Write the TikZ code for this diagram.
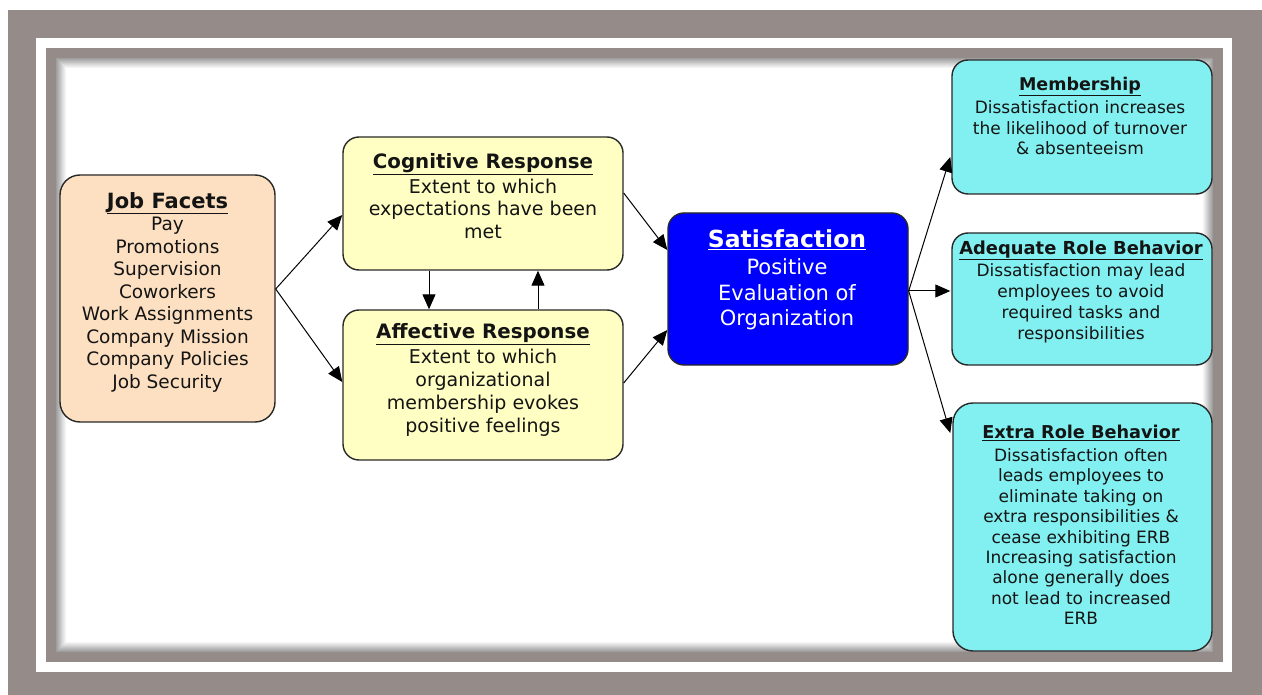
\documentclass[tikz,border=0pt]{standalone}
\usepackage{fontspec}
\setmainfont{DejaVu Sans}
\usetikzlibrary{arrows.meta}

\definecolor{framegray}{RGB}{149,139,137}
\definecolor{peach}{RGB}{253,224,194}
\definecolor{paleyellow}{RGB}{255,255,196}
\definecolor{satblue}{RGB}{0,0,255}
\definecolor{palecyan}{RGB}{130,240,240}
\definecolor{edge}{RGB}{40,40,40}

\tikzset{
  box/.style={draw=edge, line width=1.4pt, rounded corners=16pt, inner sep=0pt},
  txt/.style={align=center, inner sep=0pt, text=black!92},
  arr/.style={draw=black, line width=1pt, -{Triangle[length=15pt,width=13pt]}},
}

\newcommand{\boxtitle}[2]{{\bfseries\fontsize{#1}{#1}\selectfont\underline{#2}}}

\begin{document}
\begin{tikzpicture}[x=1pt,y=-1pt]
\useasboundingbox (0,0) rectangle (1262,695);

% frame
\fill[white] (0,0) rectangle (1262,695);
\fill[framegray] (8,10) rectangle (1262,695);
\fill[white] (36,38) rectangle (1232,672);
\fill[framegray] (46,48) rectangle (1223,662);
\fill[white] (56,58) rectangle (1213,652);
% inner shadow of the panel
\foreach \i in {0,...,9} {
  \pgfmathtruncatemacro\shade{round(38-3.8*\i)}
  \draw[black!\shade, line width=1.05pt] (56.5+\i,58.5+\i) rectangle (1212.5-\i,651.5-\i);
}

% boxes
\node[box, fill=peach, rounded corners=20pt, minimum width=215pt, minimum height=247pt] (jf) at (167.5,298.5) {};
\node[box, fill=paleyellow, minimum width=280pt, minimum height=133pt] (cog) at (483,203.5) {};
\node[box, fill=paleyellow, minimum width=280pt, minimum height=150pt] (aff) at (483,385) {};
\node[box, fill=satblue, minimum width=240pt, minimum height=152pt] (sat) at (788,289) {};
\node[box, fill=palecyan, minimum width=260pt, minimum height=134pt] (mem) at (1082,127) {};
\node[box, fill=palecyan, minimum width=260pt, minimum height=132pt] (adq) at (1082,299) {};
\node[box, fill=palecyan, rounded corners=20pt, minimum width=259pt, minimum height=248pt] (erb) at (1082.5,527) {};

% texts
\node[txt, font=\fontsize{18.5}{22.5}\selectfont] (jft) at (167.5,292)
  {\boxtitle{21}{Job Facets}\\Pay\\Promotions\\Supervision\\Coworkers\\Work Assignments\\Company Mission\\Company Policies\\Job Security};
\node[txt, font=\fontsize{19}{22.5}\selectfont] (cogt) at (483,196)
  {\boxtitle{19.8}{Cognitive Response}\\[2.5pt]Extent to which\\expectations have been\\met};
\node[txt, font=\fontsize{19}{22.8}\selectfont] (afft) at (483,380)
  {\boxtitle{19.8}{Affective Response}\\[2pt]Extent to which\\organizational\\membership evokes\\positive feelings};
\node[txt, text=white, font=\fontsize{21}{25.5}\selectfont] (satt) at (787,280)
  {\boxtitle{23.5}{Satisfaction}\\[1.5pt]Positive\\Evaluation of\\Organization};
\node[txt, font=\fontsize{17}{20.5}\selectfont] (memt) at (1080,116)
  {\boxtitle{17.5}{Membership}\\[2.5pt]Dissatisfaction increases\\the likelihood of turnover\\\& absenteeism};
\node[txt, font=\fontsize{17}{21}\selectfont] (adqt) at (1081,291.5)
  {\boxtitle{17.9}{Adequate Role Behavior}\\[1pt]Dissatisfaction may lead\\employees to avoid\\required tasks and\\responsibilities};
\node[txt, font=\fontsize{17}{20.4}\selectfont] (erbt) at (1081,525)
  {\boxtitle{17.7}{Extra Role Behavior}\\[2.5pt]Dissatisfaction often\\leads employees to\\eliminate taking on\\extra responsibilities \&\\cease exhibiting ERB\\Increasing satisfaction\\alone generally does\\not lead to increased\\ERB};

% connectors
\draw[arr] ([yshift=9.5pt]jf.east) -- ([yshift=-11.5pt]cog.west);
\draw[arr] ([yshift=9.5pt]jf.east) -- ([yshift=3pt]aff.west);
\draw[arr] ([xshift=-54pt]cog.south) -- ([xshift=-54pt]aff.north);
\draw[arr] ([xshift=55pt]aff.north) -- ([xshift=55pt]cog.south);
\draw[arr] ([yshift=10.5pt]cog.east) -- ([yshift=39pt]sat.west);
\draw[arr] ([yshift=2pt]aff.east) -- ([yshift=-41pt]sat.west);
\draw[arr] ([yshift=-2pt]sat.east) -- ([yshift=-30pt,xshift=-1pt]mem.west);
\draw[arr] ([yshift=-2pt]sat.east) -- ([yshift=8pt,xshift=-1pt]adq.west);
\draw[arr] ([yshift=-2pt]sat.east) -- ([yshift=94pt,xshift=-2pt]erb.west);
\end{tikzpicture}
\end{document}
